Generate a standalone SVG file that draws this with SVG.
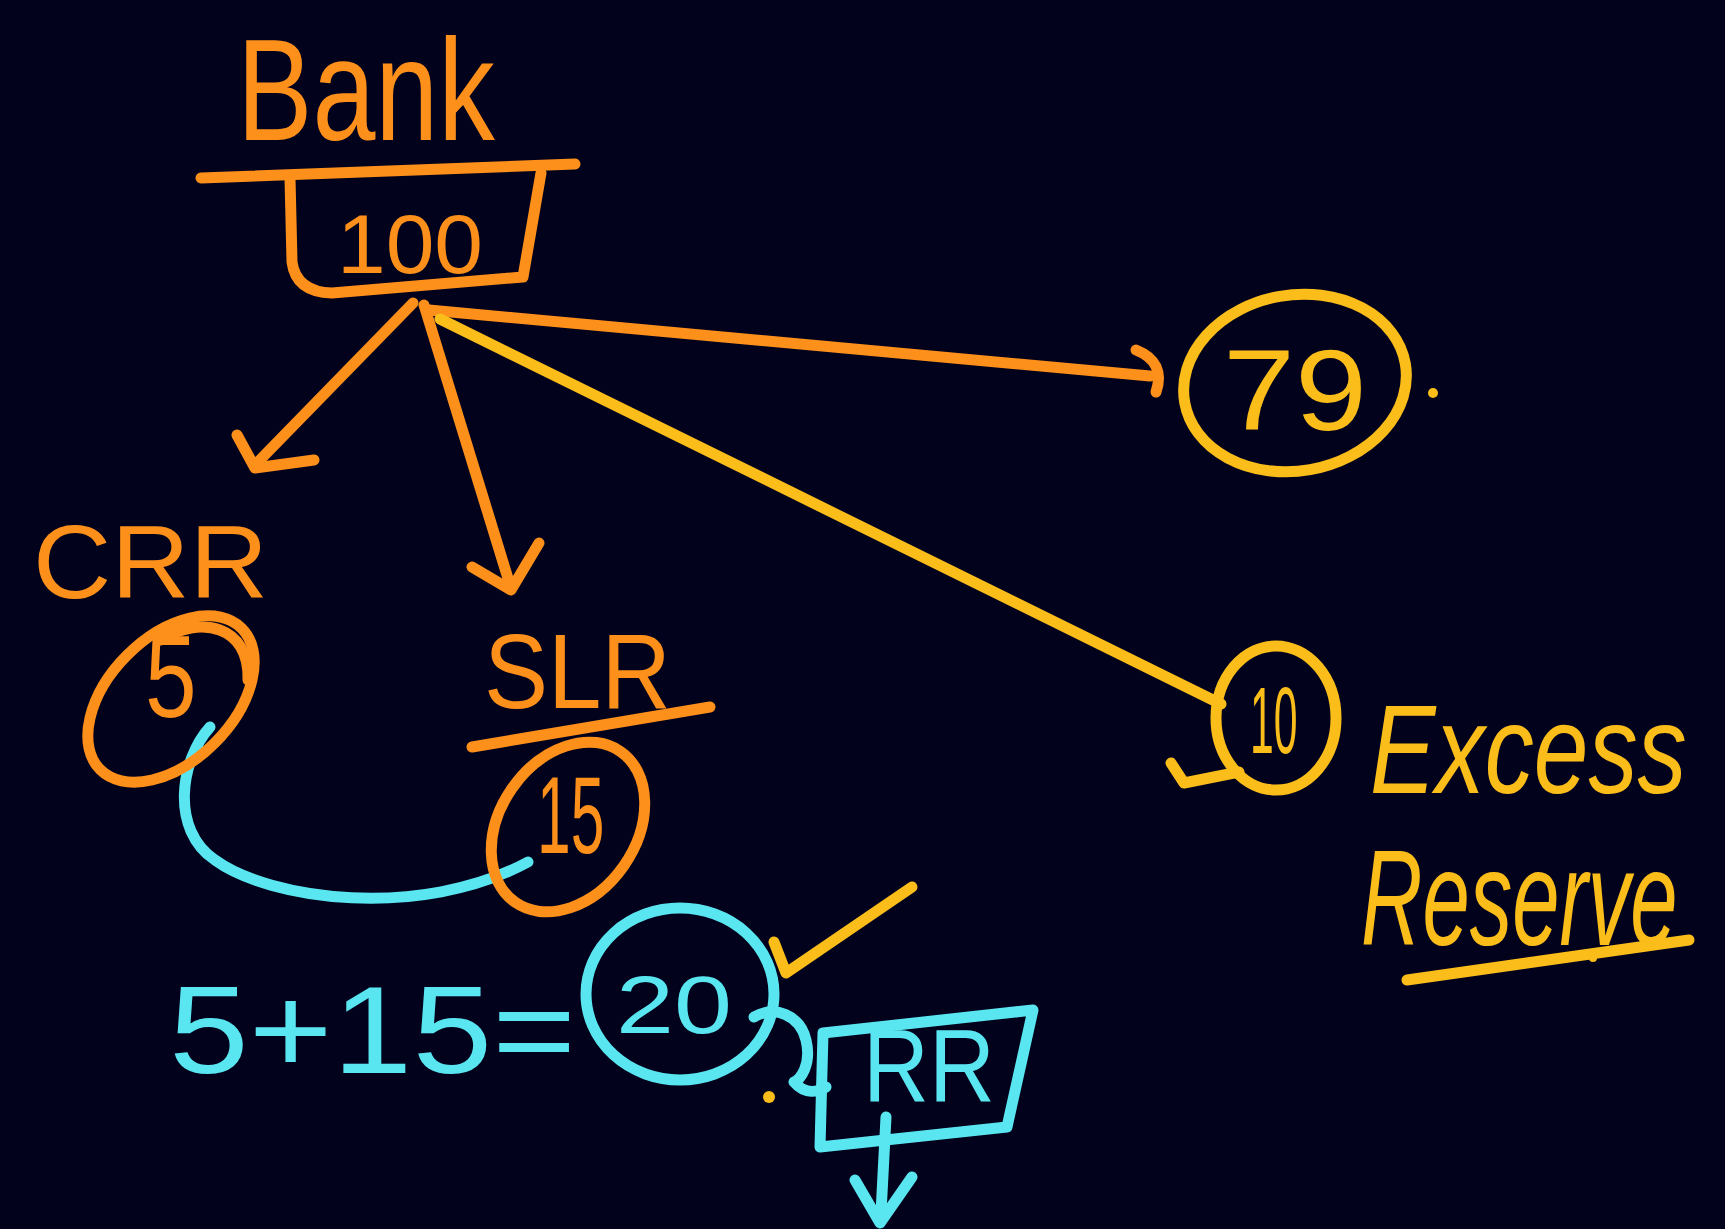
<svg xmlns="http://www.w3.org/2000/svg" width="1725" height="1229" viewBox="0 0 1725 1229">
<style>
.o{stroke:#fd8f1b;fill:none;stroke-width:11;stroke-linecap:round;stroke-linejoin:round}
.g{stroke:#fbbd1a;fill:none;stroke-width:11;stroke-linecap:round;stroke-linejoin:round}
.c{stroke:#5ae6f0;fill:none;stroke-width:11;stroke-linecap:round;stroke-linejoin:round}
.t{font-family:"Liberation Sans","DejaVu Sans",sans-serif}
.to{fill:#fd8f1b}.tg{fill:#fbbd1a}.tc{fill:#5ae6f0}
</style>
<rect width="1725" height="1229" fill="#02021c"/>
<g id="connectors">
<path class="o" d="M413,303 L255,465"/>
<path class="o" d="M237,435 L255,468 L314,460"/>
<path class="o" d="M424,305 L510,585"/>
<path class="o" d="M472,567 L511,590 L539,543"/>
<path class="o" d="M429,310 L1150,376"/>
<path class="o" d="M1136,350 Q1166,362 1156,392"/>
<path class="g" d="M440,319 L1221,704"/>
<path class="c" d="M210,727 C180,760 170,830 215,860 C270,900 420,920 528,862"/>
<path class="c" d="M754,1017 C775,1005 800,1015 806,1040 C812,1065 800,1080 794,1082 C805,1095 818,1092 826,1087"/>
<path class="c" d="M886,1117 L881,1213"/>
<path class="c" d="M855,1180 L880,1223 L912,1177"/>
</g>
<g id="bank">
<text class="t to" transform="translate(237,140) scale(0.78,1)" font-size="145">Bank</text>
<path class="o" stroke-width="12" d="M201,178 L575,164"/>
<path class="o" stroke-width="12" d="M290,178 L292,262 Q296,292 332,293 L523,277 L541,173"/>
<text class="t to" x="337" y="273" font-size="83" textLength="146" lengthAdjust="spacingAndGlyphs">100</text>
</g>
<g id="crr">
<text class="t to" x="33" y="598" font-size="103" textLength="235" lengthAdjust="spacingAndGlyphs">CRR</text>
<ellipse class="o" cx="171" cy="699" rx="100" ry="62" transform="rotate(-45 171 699)"/>
<path class="o" d="M160,640 C200,615 250,625 248,680"/>
<text class="t to" transform="translate(145,717) scale(0.8,1)" font-size="116">5</text>
</g>
<g id="slr">
<text class="t to" x="484" y="708" font-size="105" textLength="187" lengthAdjust="spacingAndGlyphs">SLR</text>
<path class="o" d="M472,747 L710,707"/>
<ellipse class="o" cx="568" cy="827" rx="92" ry="68" transform="rotate(-55 568 827)"/>
<text class="t to" transform="translate(537,853) scale(0.55,1)" font-size="110">15</text>
</g>
<g id="n79">
<ellipse class="g" cx="1295" cy="383" rx="112" ry="88" transform="rotate(-10 1295 383)"/>
<text class="t tg" x="1223" y="430" font-size="115" textLength="144" lengthAdjust="spacingAndGlyphs">79</text>
<circle cx="1433" cy="393" r="5" fill="#fbbd1a"/>
</g>
<g id="n10">
<ellipse class="g" cx="1276" cy="718" rx="60" ry="72"/>
<text class="t tg" transform="translate(1250,753) scale(0.45,1)" font-size="95">10</text>
<path class="g" d="M1171,763 L1184,783 L1239,772"/>
</g>
<g id="excess">
<text class="t tg" transform="translate(1370,793) scale(0.78,1)" font-size="126" font-style="italic">Excess</text>
<text class="t tg" transform="translate(1361,945) scale(0.63,1)" font-size="135" font-style="italic">Reserve</text>
<path class="g" d="M1407,980 L1689,940"/>
<circle cx="1593" cy="958" r="4" fill="#fbbd1a"/>
</g>
<g id="sum">
<text class="t tc" x="169" y="1073" font-size="125" textLength="407" lengthAdjust="spacingAndGlyphs">5+15=</text>
<ellipse class="c" cx="680" cy="994" rx="94" ry="86"/>
<text class="t tc" x="616" y="1033" font-size="82" textLength="116" lengthAdjust="spacingAndGlyphs">20</text>
<path class="g" d="M774,942 L786,973 L912,887"/>
<circle cx="769" cy="1097" r="6" fill="#fbbd1a"/>
</g>
<g id="rr">
<path class="c" stroke-width="16" d="M823,1033 L1033,1010 L1007,1127 L820,1147 Z"/>
<text class="t tc" x="863" y="1102" font-size="104" textLength="132" lengthAdjust="spacingAndGlyphs">RR</text>
</g>
</svg>
